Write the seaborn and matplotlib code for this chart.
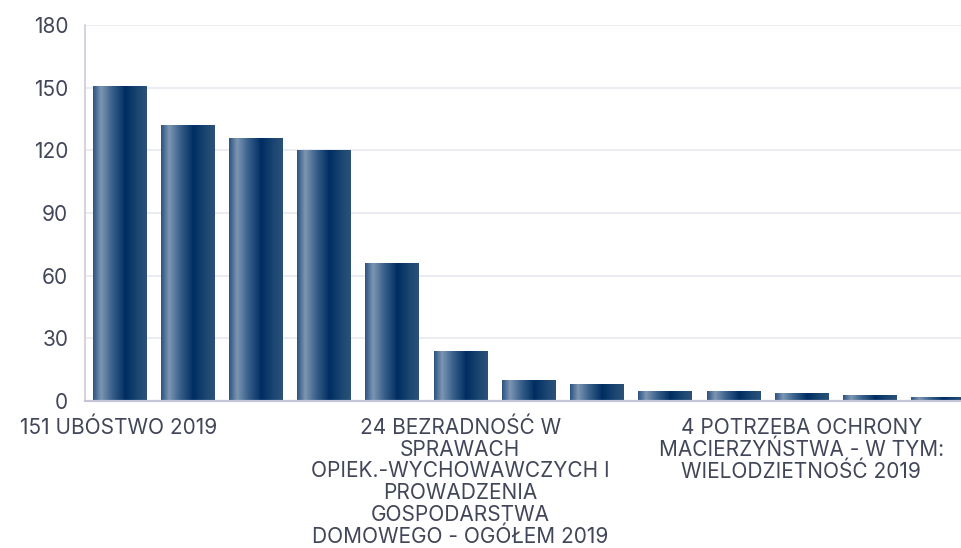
import numpy as np
import pandas as pd
import matplotlib
matplotlib.use("Agg")
import matplotlib.pyplot as plt
from matplotlib.colors import LinearSegmentedColormap
import seaborn as sns

# Data (sorted, descending)
categories = [
    "UBÓSTWO",
    "BEZROBOCIE",
    "DŁUGOTRWAŁA LUB CIĘŻKA CHOROBA",
    "NIEPEŁNOSPRAWNOŚĆ",
    "ALKOHOLIZM",
    "BEZRADNOŚĆ W SPRAWACH OPIEK.-WYCHOWAWCZYCH I PROWADZENIA GOSPODARSTWA DOMOWEGO - OGÓŁEM",
    "PRZEMOC W RODZINIE",
    "POTRZEBA OCHRONY MACIERZYŃSTWA - OGÓŁEM",
    "BEZDOMNOŚĆ",
    "NARKOMANIA",
    "POTRZEBA OCHRONY MACIERZYŃSTWA - W TYM: WIELODZIETNOŚĆ",
    "ZDARZENIE LOSOWE",
    "SYTUACJA KRYZYSOWA",
]
values = [151, 132, 126, 120, 66, 24, 10, 8, 5, 5, 4, 3, 2]
year = 2019

# only every 5th label fits on the axis, wrapped as in the original
tick_labels = {
    0: "151 UBÓSTWO 2019",
    5: "24 BEZRADNOŚĆ W\nSPRAWACH\nOPIEK.-WYCHOWAWCZYCH I\nPROWADZENIA\nGOSPODARSTWA\nDOMOWEGO - OGÓŁEM 2019",
    10: "4 POTRZEBA OCHRONY\nMACIERZYŃSTWA - W TYM:\nWIELODZIETNOŚĆ 2019",
}
y_ticks = [0, 30, 60, 90, 120, 150, 180]

df = pd.DataFrame({
    "label": [f"{v} {c} {year}" for v, c in zip(values, categories)],
    "value": values,
})

sns.set_style("white")
plt.rcParams["font.family"] = ["Inter", "DejaVu Sans"]
text_color = "#424659"

fig = plt.figure(figsize=(9.62, 5.48), dpi=100)
ax = fig.add_axes([85 / 962, 147 / 548, 887 / 962, 376 / 548])

sns.barplot(data=df, x="label", y="value", ax=ax, width=0.78,
            color="#0a3363", saturation=1)

# horizontal "cylinder" gradient on each bar
grad = LinearSegmentedColormap.from_list("bar", [
    (0.00, "#2b5381"),
    (0.15, "#7d96b3"),
    (0.35, "#3a628c"),
    (0.60, "#002d62"),
    (0.85, "#1d4873"),
    (1.00, "#2c5179"),
])
gx = np.linspace(0, 1, 256).reshape(1, -1)
for p in ax.patches:
    x0, y0 = p.get_x(), p.get_y()
    w, h = p.get_width(), p.get_height()
    p.set_facecolor("none")
    p.set_edgecolor("none")
    im = ax.imshow(gx, cmap=grad, aspect="auto", extent=[x0, x0 + w, y0, y0 + h],
                   zorder=2, interpolation="bilinear")
    im.set_clip_path(p)

ax.set_xlim(-0.5, len(values) - 0.5)
ax.set_ylim(0, 180)
ax.set_yticks(y_ticks)
ax.set_yticklabels([str(t) for t in y_ticks])
ax.set_xticks(range(len(values)))
ax.set_xticklabels([tick_labels.get(i, "") for i in range(len(values))],
                   ha="center", va="top", linespacing=1.1)

ax.grid(axis="y", color="#e8e8f0", linewidth=1.2)
ax.set_axisbelow(True)
for s in ["top", "right"]:
    ax.spines[s].set_visible(False)
ax.spines["left"].set_color("#ccccdc")
ax.spines["left"].set_linewidth(1.2)
ax.spines["bottom"].set_color("#c4c6d8")
ax.spines["bottom"].set_linewidth(1.6)
ax.spines["bottom"].set_zorder(3)

ax.tick_params(axis="y", length=0, pad=12, labelsize=15, labelcolor=text_color)
ax.tick_params(axis="x", length=0, pad=12, labelsize=15, labelcolor=text_color)
ax.set_xlabel("")
ax.set_ylabel("")

fig.savefig("out.png", dpi=100)
